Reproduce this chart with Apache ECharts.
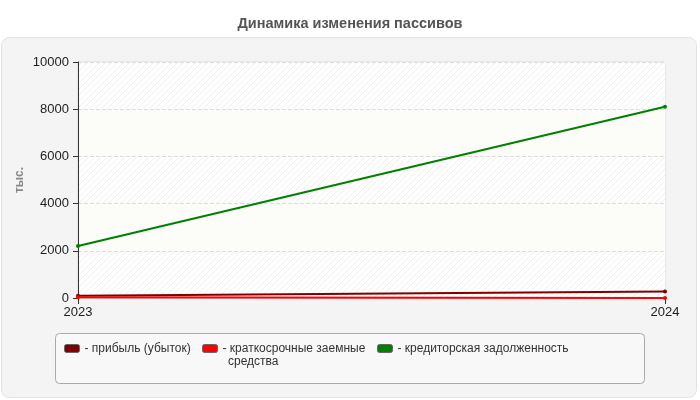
<!DOCTYPE html>
<html>
<head>
<meta charset="utf-8">
<script src="https://cdn.jsdelivr.net/npm/echarts@6/dist/echarts.min.js"></script>
<style>
html, body { margin: 0; padding: 0; background: #fff; }
#echart { width: 700px; height: 400px; }
</style>
</head>
<body>
<div id="echart"></div>
<script>
var years = ['2023', '2024'];
var profit = [100, 280];
var shortLoans = [30, 0];
var payables = [2200, 8100];
var names = ['прибыль (убыток)', 'краткосрочные заемные средства', 'кредиторская задолженность'];
var colors = ['#800000', '#ff0000', '#008000'];

// штриховка для фона графика
var hatch = document.createElement('canvas');
hatch.width = 6;
hatch.height = 6;
var ctx = hatch.getContext('2d');
ctx.fillStyle = '#ffffff';
ctx.fillRect(0, 0, 6, 6);
ctx.strokeStyle = '#efefef';
ctx.lineWidth = 1;
ctx.beginPath();
ctx.moveTo(0, 6); ctx.lineTo(6, 0);
ctx.moveTo(-3, 3); ctx.lineTo(3, -3);
ctx.moveTo(3, 9); ctx.lineTo(9, 3);
ctx.stroke();

var font = 'Arial, Liberation Sans';
var myChart = echarts.init(document.getElementById('echart'));

function legendPart(i, left) {
    return {
        data: [names[i]],
        left: left,
        top: 342,
        padding: 0,
        itemWidth: 15,
        itemHeight: 8,
        itemGap: 4,
        icon: 'roundRect',
        selectedMode: false,
        // длинное название переносится: вторая строка рисуется отдельно
        formatter: function (n) { return '- ' + n.replace(' средства', ''); },
        itemStyle: { borderColor: '#666', borderWidth: 1 },
        textStyle: { fontSize: 12, color: '#333', fontFamily: font, lineHeight: 13 }
    };
}

var option = {
    animation: false,
    title: {
        text: 'Динамика изменения пассивов',
        left: 'center',
        top: 11,
        textStyle: { fontSize: 14.5, fontWeight: 'bold', color: '#555', fontFamily: font }
    },
    graphic: [
        {
            type: 'rect', z: -10,
            shape: { x: 1.5, y: 37.5, width: 695, height: 360, r: 8 },
            style: { fill: '#f4f4f4', stroke: '#e2e2e2', lineWidth: 1 }
        },
        {
            type: 'rect', z: -5,
            shape: { x: 55.5, y: 333.5, width: 589, height: 50, r: 4 },
            style: { fill: '#f8f8f8', stroke: '#aaa', lineWidth: 1 }
        },
        {
            type: 'text', left: 228, top: 356,
            style: { text: 'средства', fontSize: 12, fill: '#333', fontFamily: font }
        }
    ],
    legend: [legendPart(0, 64), legendPart(1, 202), legendPart(2, 377)],
    grid: {
        left: 78, right: 35, top: 62, bottom: 102,
        show: true, borderColor: '#ddd', borderWidth: 1, backgroundColor: '#fff'
    },
    xAxis: {
        type: 'category',
        data: years,
        boundaryGap: false,
        axisLine: { lineStyle: { color: '#ccc' } },
        axisTick: { show: true, length: 6, lineStyle: { color: '#333' } },
        axisLabel: { fontSize: 13, color: '#222', margin: 8, fontFamily: font }
    },
    yAxis: {
        type: 'value',
        min: 0, max: 10000, interval: 2000,
        name: 'тыс.',
        nameLocation: 'middle',
        nameGap: 52,
        nameMoveOverlap: false,
        nameTextStyle: { fontSize: 12, fontWeight: 'bold', color: '#888', fontFamily: font },
        axisLine: { show: true, lineStyle: { color: '#333' } },
        axisTick: { show: true, length: 5, lineStyle: { color: '#333' } },
        axisLabel: { fontSize: 13, color: '#222', margin: 9, fontFamily: font, formatter: function (v) { return String(v); } },
        splitLine: { lineStyle: { type: 'dashed', color: '#ddd' } },
        splitArea: {
            show: true,
            areaStyle: { color: [{ image: hatch, repeat: 'repeat' }, '#fcfdf8'] }
        }
    },
    series: [
        { name: names[0], type: 'line', data: profit, color: colors[0], symbol: 'circle', symbolSize: 4, lineStyle: { width: 2 } },
        { name: names[1], type: 'line', data: shortLoans, color: colors[1], symbol: 'circle', symbolSize: 4, lineStyle: { width: 2 } },
        { name: names[2], type: 'line', data: payables, color: colors[2], symbol: 'circle', symbolSize: 4, lineStyle: { width: 2 } }
    ]
};
myChart.setOption(option);
</script>
</body>
</html>
